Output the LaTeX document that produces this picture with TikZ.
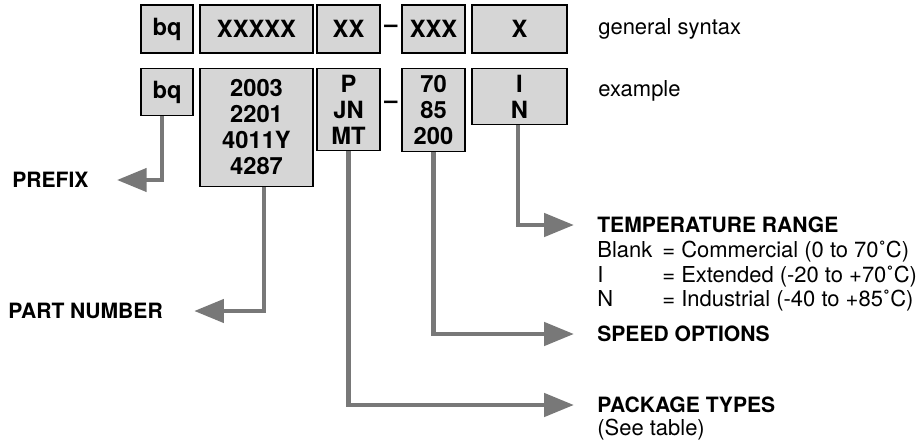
\documentclass[tikz,border=0pt]{standalone}
\usepackage{fontspec}
\setmainfont{TeX Gyre Heros}
\usetikzlibrary{arrows.meta}
\definecolor{boxgray}{gray}{0.84}
\definecolor{leadgray}{gray}{0.47}
\newcommand{\boxfont}{\fontsize{13.5}{14.8}\selectfont\bfseries}
\newcommand{\labfont}{\fontsize{12}{14}\selectfont\bfseries}
\newcommand{\txtfont}{\fontsize{12.5}{14.2}\selectfont}

\begin{document}
\begin{tikzpicture}[x=0.02cm,y=-0.02cm,
  field/.style={draw,line width=0.6pt,fill=boxgray,inner sep=0pt,align=center,font=\boxfont},
  lead/.style={line width=2.8pt,draw=leadgray,-{Triangle[length=17pt,width=13pt]}},
  lab/.style={anchor=west,inner sep=0pt,font=\labfont},
  txt/.style={anchor=west,inner sep=0pt,font=\txtfont}]
  \useasboundingbox (0,0) rectangle (923,446);
  % general syntax row
  \node[field,minimum width=1.04cm,minimum height=0.96cm] (bq1) at (167,29) {bq};
  \node[field,minimum width=2.26cm,minimum height=0.96cm] (num1) at (256.5,29) {XXXXX};
  \node[field,minimum width=1.26cm,minimum height=0.96cm] (pkg1) at (348.5,29) {XX};
  \node[inner sep=0pt,font=\boxfont] (dash1) at (391,29) {--};
  \node[field,minimum width=1.26cm,minimum height=0.96cm] (spd1) at (433.5,29) {XXX};
  \node[field,minimum width=1.90cm,minimum height=0.96cm] (tmp1) at (519.5,29) {X};
  \node[txt] (syntax) at (598,29) {general syntax};
  % example row
  \node[field,anchor=north,minimum width=1.04cm,minimum height=0.94cm] (bq2) at (167,68) {bq};
  \node[field,anchor=north,minimum width=2.26cm,minimum height=2.36cm] (num2) at (256.5,68) {2003\\2201\\4011Y\\4287};
  \node[field,anchor=north,minimum width=1.26cm,minimum height=1.64cm] (pkg2) at (348.5,68) {P\\JN\\MT};
  \node[inner sep=0pt,font=\boxfont] (dash2) at (391,105) {--};
  \node[field,anchor=north,minimum width=1.26cm,minimum height=1.66cm] (spd2) at (433.5,68) {70\\85\\200};
  \node[field,anchor=north,minimum width=1.90cm,minimum height=1.12cm] (tmp2) at (519.5,68) {I\\N};
  \node[txt] (example) at (598,91) {example};
  % field names
  \node[lab] (prefix) at (12,180) {PREFIX};
  \node[lab] (partno) at (8,311) {PART NUMBER};
  \node[lab] (temp) at (597,225) {TEMPERATURE RANGE};
  \node[txt] (blank) at (597,252) {\makebox[1.30cm][l]{Blank}= Commercial (0 to 70˚C)};
  \node[txt] (ext) at (597,277) {\makebox[1.30cm][l]{I}= Extended (-20 to +70˚C)};
  \node[txt] (ind) at (597,301) {\makebox[1.30cm][l]{N}= Industrial (-40 to +85˚C)};
  \node[lab] (speed) at (597,334) {SPEED OPTIONS};
  \node[lab] (pkgtype) at (597,405) {PACKAGE TYPES};
  \node[txt] (seetab) at (597,430) {(See table)};
  % leaders
  \draw[lead] ([xshift=-0.1cm]bq2.south) |- ([xshift=0.56cm]prefix.east);
  \draw[lead] ([xshift=0.15cm]num2.south) |- ([xshift=0.62cm]partno.east);
  \draw[lead] (pkg2.south) |- ([xshift=-0.46cm]pkgtype.west);
  \draw[lead] (spd2.south) |- ([xshift=-0.46cm]speed.west);
  \draw[lead] ([xshift=-0.03cm]tmp2.south) |- ([xshift=-0.46cm]temp.west);
\end{tikzpicture}
\end{document}
